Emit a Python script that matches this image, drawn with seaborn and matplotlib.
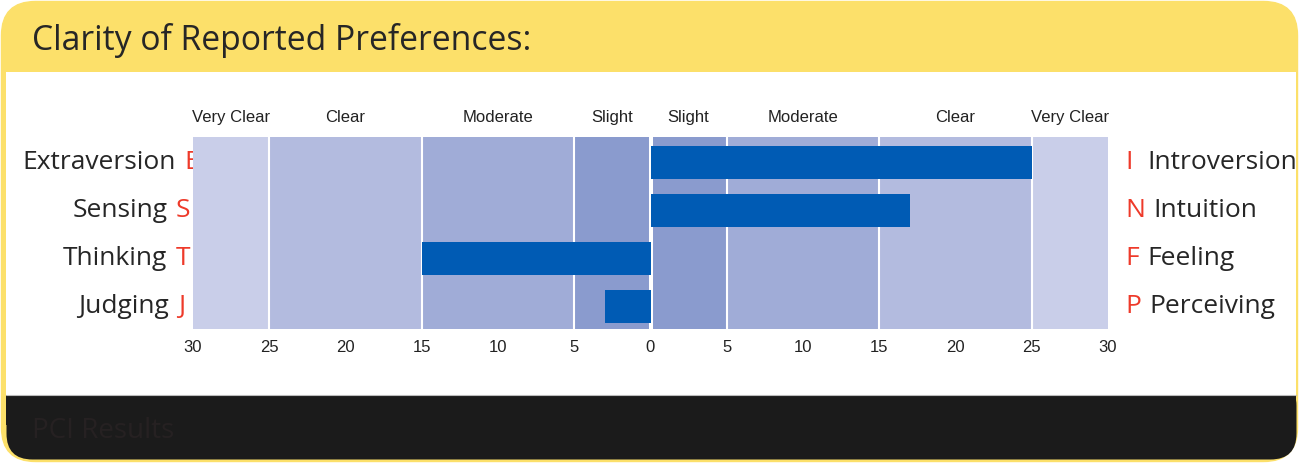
import numpy as np
import pandas as pd
import matplotlib.pyplot as plt
import seaborn as sns
from matplotlib.patches import FancyBboxPatch, Rectangle

# donnees
left_names = ["Extraversion", "Sensing", "Thinking", "Judging"]
left_letters = ["E", "S", "T", "J"]
right_letters = ["I", "N", "F", "P"]
right_names = ["Introversion", "Intuition", "Feeling", "Perceiving"]
scores = [25, 17, -15, -3]   # positif = cote droit
zone_edges = [0, 5, 15, 25, 30]
zone_names = ["Slight", "Moderate", "Clear", "Very Clear"]
tick_values = [-30, -25, -20, -15, -10, -5, 0, 5, 10, 15, 20, 25, 30]

# couleurs
jaune = "#FCE06A"
fond_noir = "#1B1B1B"
bleu_barre = "#005BB4"
rouge = "#EE3A2A"
texte = "#262626"
couleurs_zones = ["#8A9BCE", "#A0ACD7", "#B3BBDF", "#C9CEE9"]

sns.set_style("white")
plt.rcParams['font.family'] = ['Open Sans', 'DejaVu Sans']
police_arial = ['Liberation Sans', 'DejaVu Sans']

fig = plt.figure(figsize=(12.99, 4.63), dpi=100)

# cadre de fond en pixels
ax_bg = fig.add_axes([0, 0, 1, 1], zorder=0)
ax_bg.set_xlim(0, 1299)
ax_bg.set_ylim(463, 0)
ax_bg.axis("off")
ax_bg.add_patch(FancyBboxPatch((1.5, 1.5), 1296, 460, boxstyle="round,pad=0,rounding_size=34",
                               facecolor=jaune, edgecolor=jaune, lw=1))
ax_bg.add_patch(FancyBboxPatch((6.5, 380), 1290, 79.5, boxstyle="round,pad=0,rounding_size=26",
                               facecolor=fond_noir, edgecolor="none"))
ax_bg.add_patch(Rectangle((6.5, 72), 1290, 323, facecolor="white", edgecolor="none"))
ax_bg.add_patch(Rectangle((6.5, 395), 1290, 30, facecolor=fond_noir, edgecolor="none"))
ax_bg.plot([6.5, 1296.5], [395, 395], color="#BBBBBB", lw=0.8)
ax_bg.text(32, 41, "Clarity of Reported Preferences:", fontsize=24.3, color=texte,
           va="center", ha="left")
ax_bg.text(32, 431, "PCI Results", fontsize=20, color="#262122", va="center", ha="left")

# graphique principal
ax = fig.add_axes([193 / 1299, (463 - 329) / 463, 915 / 1299, 192 / 463], zorder=1)
df = pd.DataFrame({"dimension": left_names, "score": scores})

for i in range(len(zone_names)):
    lo, hi = zone_edges[i], zone_edges[i + 1]
    ax.axvspan(lo, hi, color=couleurs_zones[i], lw=0, zorder=0)
    ax.axvspan(-hi, -lo, color=couleurs_zones[i], lw=0, zorder=0)

for v in [5, 15, 25]:
    ax.axvline(v, color="white", lw=1.5, zorder=1)
    ax.axvline(-v, color="white", lw=1.5, zorder=1)
ax.axvline(0, color="white", lw=2.9, zorder=1)

sns.barplot(data=df, x="score", y="dimension", orient="h", color=bleu_barre,
            width=0.67, saturation=1, linewidth=0, edgecolor="none", ax=ax, zorder=2)

ax.set_xlim(-30, 30)
ax.set_ylim(3.47, -0.53)
ax.set_xticks(tick_values)
ax.set_xticklabels([str(abs(t)) for t in tick_values], fontsize=12,
                   family=police_arial, color="#222222")
ax.tick_params(axis="x", length=0, pad=8)
ax.set_yticks([])
ax.set_xlabel("")
ax.set_ylabel("")
sns.despine(ax=ax, left=True, bottom=True)

# noms des zones au dessus
trans_x = ax.get_xaxis_transform()
for i, nom in enumerate(zone_names):
    centre = (zone_edges[i] + zone_edges[i + 1]) / 2
    for signe in [-1, 1]:
        ax.text(signe * centre, 1.10, nom, transform=trans_x, ha="center", va="center",
                fontsize=12, family=police_arial, color="#222222")

# etiquettes gauche / droite
trans_y = ax.get_yaxis_transform()
decalage_gauche = [6.5, 0, 0, -4]   # en points, la lettre E passe sous le graphique
ecarts_droite = [11, 6, 6, 6]
for i in range(len(left_names)):
    lettre_g = ax.annotate(left_letters[i], xy=(-0.003, i), xycoords=trans_y,
                           xytext=(decalage_gauche[i], 0), textcoords="offset points",
                           ha="right", va="center", fontsize=19, color=rouge, zorder=-1,
                           annotation_clip=False)
    ax.annotate(left_names[i], xy=(0, i), xycoords=(lettre_g, trans_y), xytext=(-6, 0),
                textcoords="offset points", ha="right", va="center", fontsize=19,
                color=texte, zorder=-1, annotation_clip=False)
    lettre_d = ax.text(1.0186, i, right_letters[i], transform=trans_y, ha="left", va="center",
                       fontsize=19, color=rouge, clip_on=False)
    ax.annotate(right_names[i], xy=(1, i), xycoords=(lettre_d, trans_y),
                xytext=(ecarts_droite[i], 0), textcoords="offset points", ha="left",
                va="center", fontsize=19, color=texte, annotation_clip=False)

fig.savefig("out.png", dpi=100)
